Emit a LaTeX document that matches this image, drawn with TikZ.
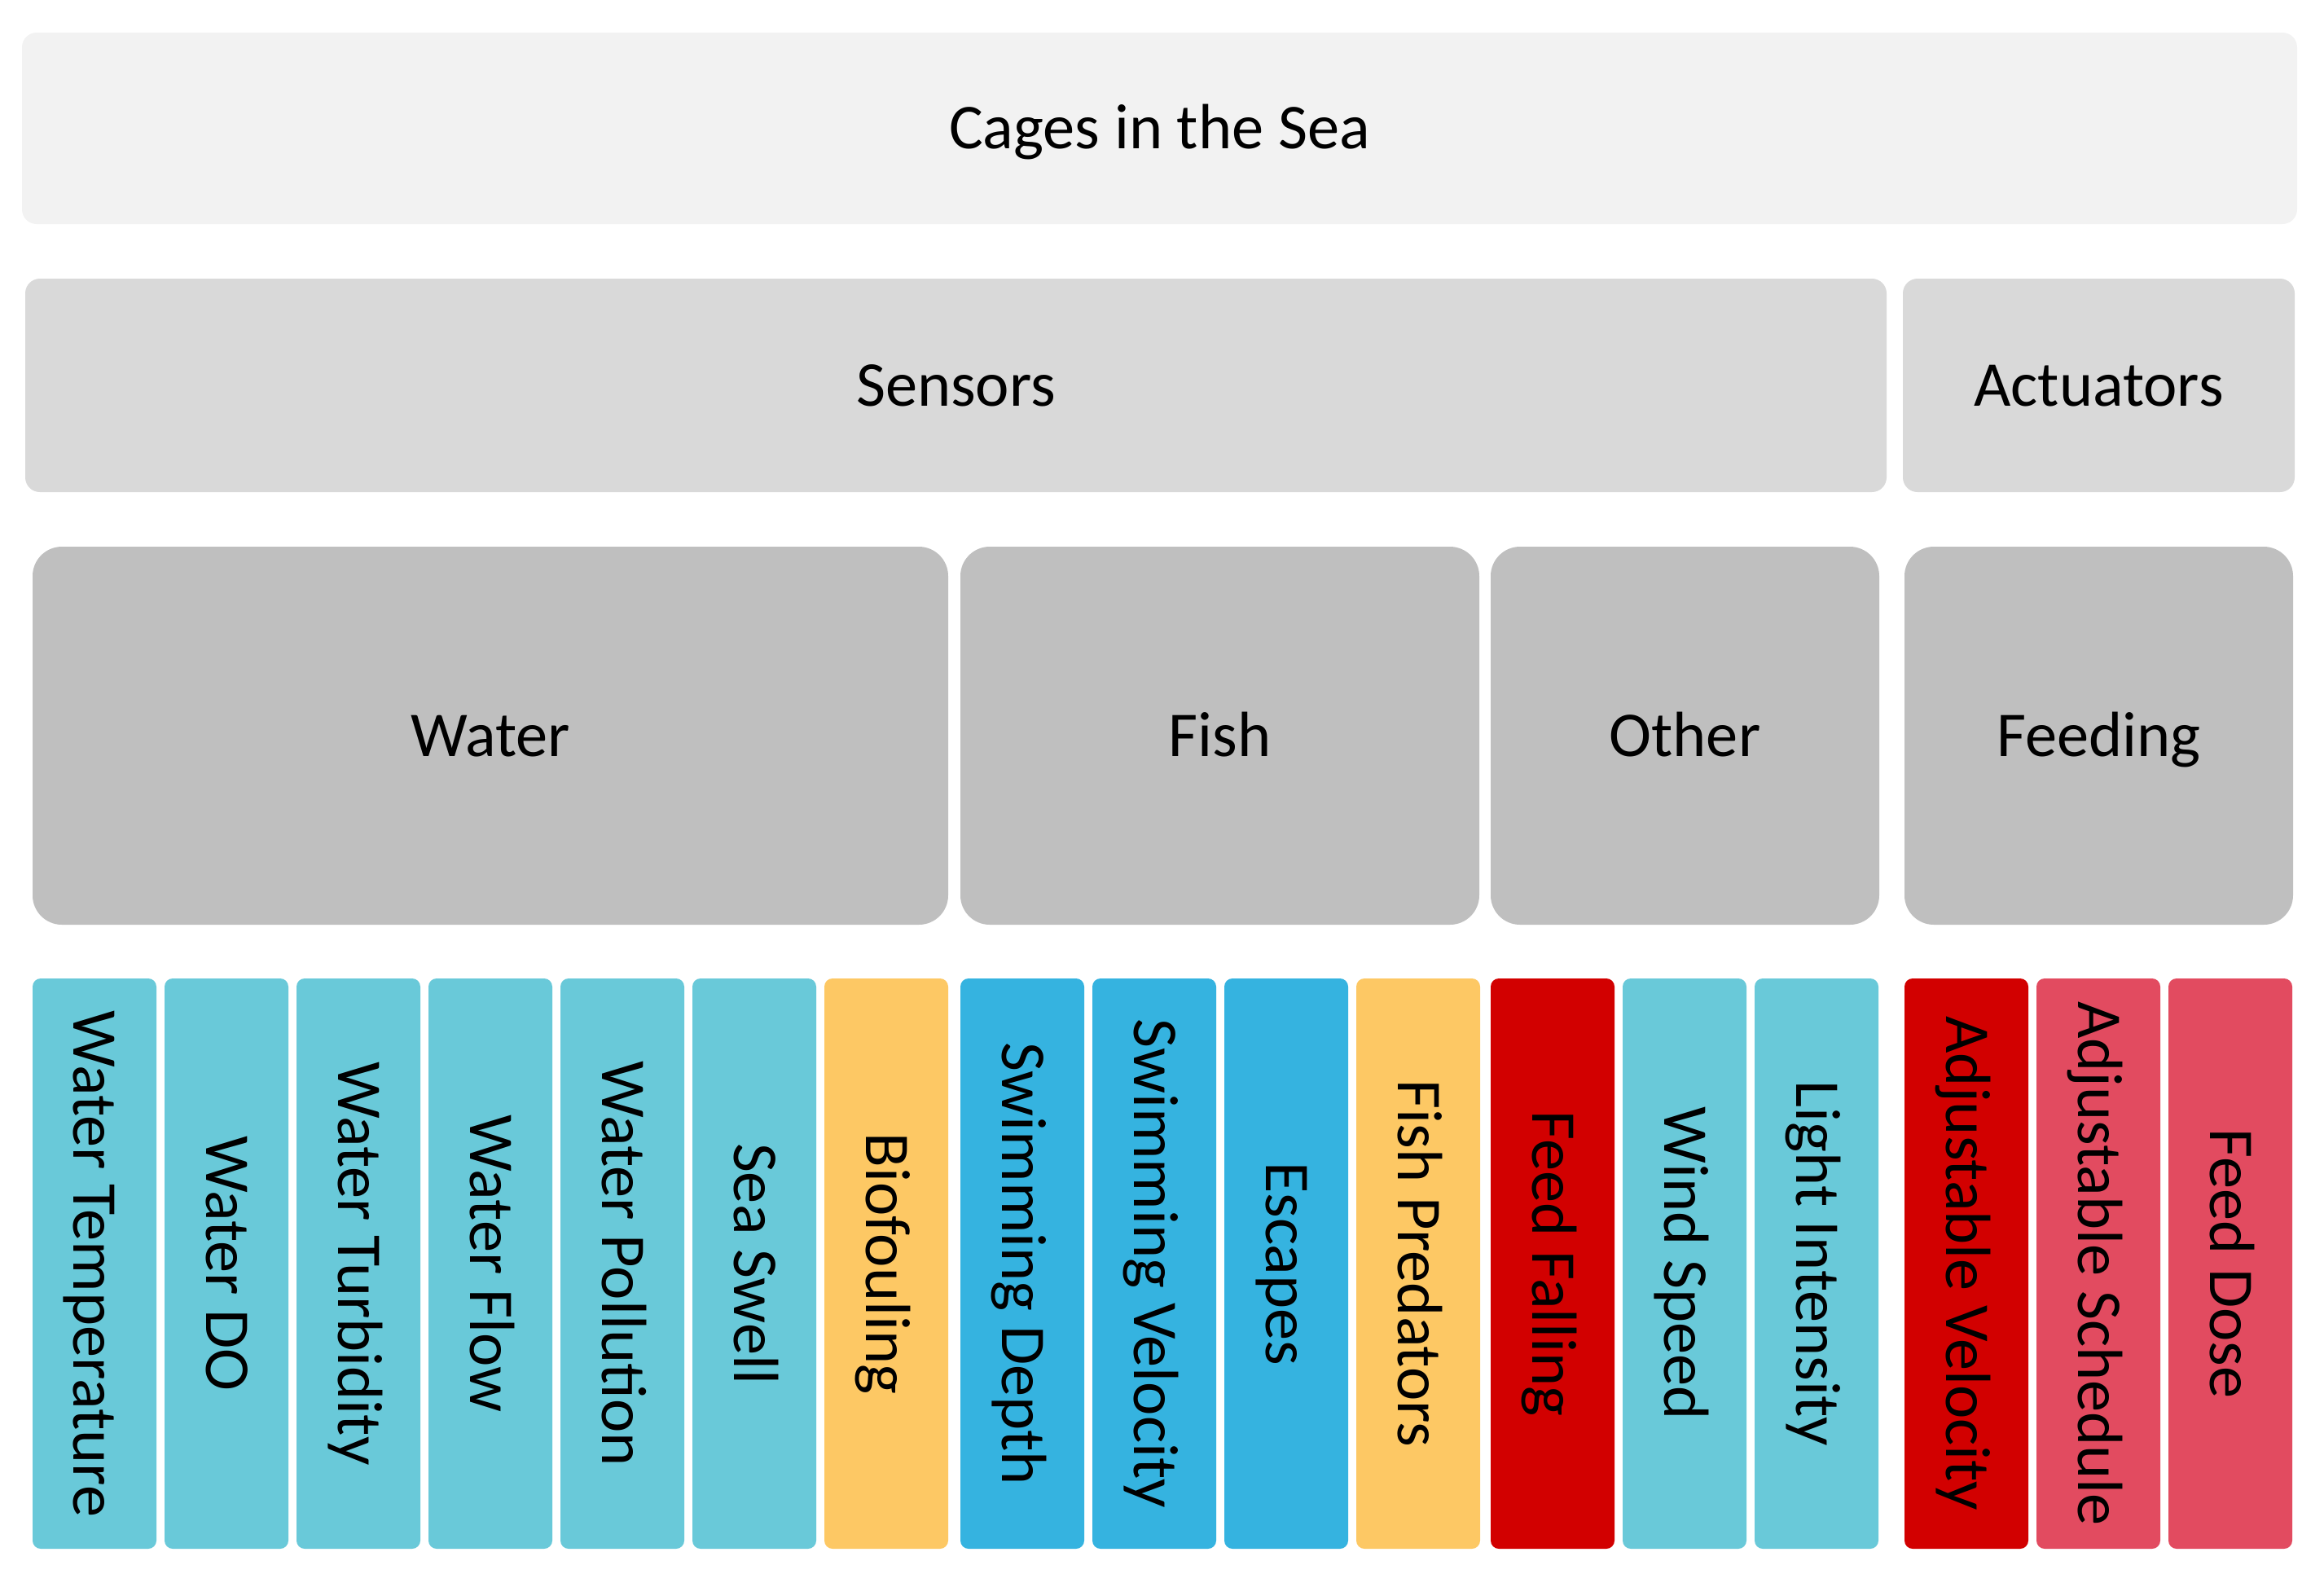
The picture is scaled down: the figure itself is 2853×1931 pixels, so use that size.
\documentclass[tikz,border=0pt]{standalone}
\usepackage{fontspec}
\setmainfont{Carlito}
\definecolor{cTop}{HTML}{F2F2F2}
\definecolor{cMid}{HTML}{D9D9D9}
\definecolor{cLow}{HTML}{BFBFBF}
\definecolor{cCyan}{HTML}{69C9D9}
\definecolor{cBlue}{HTML}{35B3E0}
\definecolor{cOrange}{HTML}{FDC864}
\definecolor{cRed}{HTML}{D20000}
\definecolor{cPink}{HTML}{E24B60}
\tikzset{
  box/.style={draw=none, inner sep=0pt, anchor=center, font=\fontsize{19.6}{23}\selectfont, text=black, text height=12.5pt, text depth=0pt},
  topbox/.style={box, rounded corners=4.5pt, fill=cTop, minimum height=58.75pt},
  midbox/.style={box, rounded corners=4.5pt, fill=cMid, minimum height=65.5pt},
  lowbox/.style={box, rounded corners=9pt, fill=cLow, minimum height=116pt},
  stripbox/.style={box, rounded corners=2.5pt, rotate=-90, minimum width=175pt, minimum height=38pt}
}
\begin{document}
\begin{tikzpicture}[x=0.25pt, y=-0.25pt]
\useasboundingbox (0,0) rectangle (2853,1931);
\node (cages) [topbox, minimum width=698.25pt] at (1423.5,157.5) {Cages in the Sea};
\node (sensors) [midbox, minimum width=571.25pt] at (1173.5,473) {Sensors};
\node (actuators) [midbox, minimum width=120.25pt] at (2576.5,473) {Actuators};
\node (water) [lowbox, minimum width=281pt] at (602,903) {Water};
\node (fish) [lowbox, minimum width=159.25pt] at (1497.5,903) {Fish};
\node (other) [lowbox, minimum width=119.25pt] at (2068.5,903) {Other};
\node (feeding) [lowbox, minimum width=119.25pt] at (2576.5,903) {Feeding};
\foreach \n/\xl/\c/\t in {
  1/40/cCyan/Water Temperature,
  2/202/cCyan/Water DO,
  3/364/cCyan/Water Turbidity,
  4/526/cCyan/Water Flow,
  5/688/cCyan/Water Pollution,
  6/850/cCyan/Sea Swell,
  7/1012/cOrange/Biofouling,
  8/1179/cBlue/Swimming Depth,
  9/1341/cBlue/Swimming Velocity,
  10/1503/cBlue/Escapes,
  11/1665/cOrange/Fish Predators,
  12/1830/cRed/Feed Falling,
  13/1992/cCyan/Wind Speed,
  14/2154/cCyan/Light Intensity,
  15/2338/cRed/Adjustable Velocity,
  16/2500/cPink/Adjustable Schedule,
  17/2662/cPink/Feed Dose}{
  \node (s\n) [stripbox, fill=\c] at (\xl+76,1551) {\t};
}
\end{tikzpicture}
\end{document}
